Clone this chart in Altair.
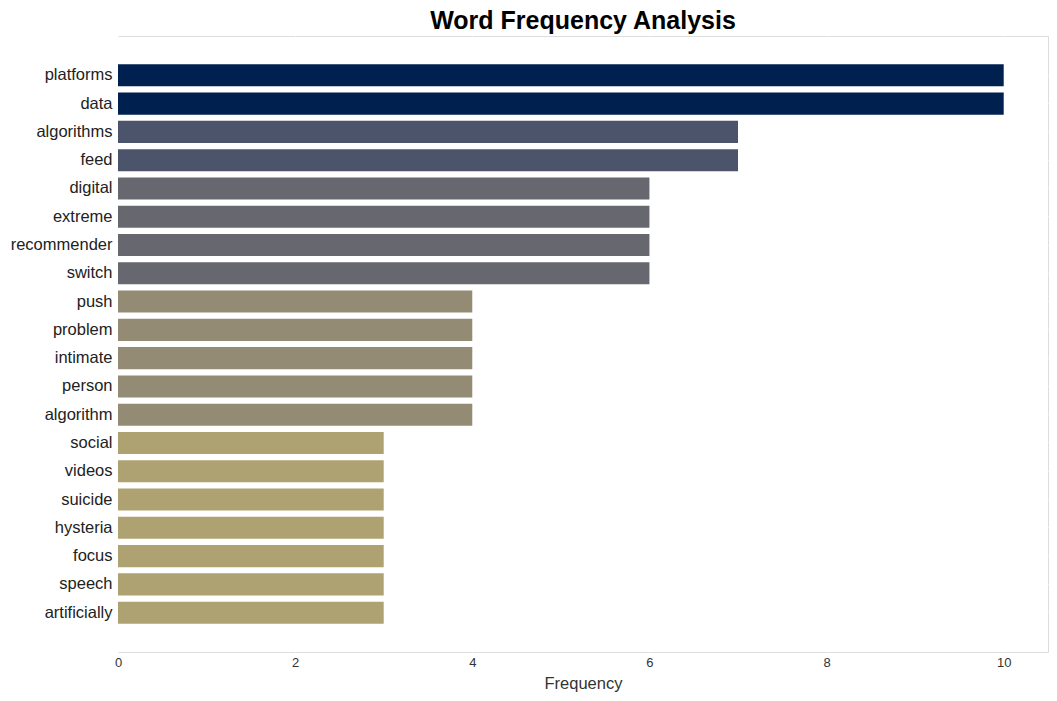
import altair as alt
import pandas as pd

words = ["platforms", "data", "algorithms", "feed", "digital", "extreme", "recommender",
         "switch", "push", "problem", "intimate", "person", "algorithm", "social",
         "videos", "suicide", "hysteria", "focus", "speech", "artificially"]
counts = [10, 10, 7, 7, 6, 6, 6, 6, 4, 4, 4, 4, 4, 3, 3, 3, 3, 3, 3, 3]
color_levels = [10, 7, 6, 4, 3]
color_values = ["#00214f", "#4b546a", "#67686f", "#948b75", "#afa272"]

df = pd.DataFrame({"word": words, "count": counts})

chart = alt.Chart(df).mark_bar().encode(
    x=alt.X("count:Q", title="Frequency",
            scale=alt.Scale(domain=[0, 10.5], nice=False),
            axis=alt.Axis(values=[0, 2, 4, 6, 8, 10], format="d", domain=False, ticks=False,
                          labelFlush=False,
                          labelFontSize=13, titleFontSize=16.5, labelPadding=4,
                          titlePadding=6, labelColor="#333333", titleColor="#333333",
                          titleFontWeight="normal", gridColor="white", gridWidth=1)),
    y=alt.Y("word:N", sort=words, title=None,
            scale=alt.Scale(paddingInner=0.22, paddingOuter=1.0),
            axis=alt.Axis(domain=False, ticks=False, labelFontSize=16.5, labelPadding=6,
                          labelColor="#222222", grid=True, gridColor="white", gridWidth=1)),
    color=alt.Color("count:O", scale=alt.Scale(domain=color_levels, range=color_values),
                    legend=None),
).properties(
    width=930, height=616,
    title=alt.TitleParams("Word Frequency Analysis", fontSize=25, fontWeight="bold",
                          anchor="middle", color="black", offset=2),
).configure_view(fill="#f7f7f7", stroke=None).configure(
    font="Liberation Sans", padding={"left": 2, "top": 1, "right": 1, "bottom": 2}
)

chart.save("out.html", embed_options={"renderer": "svg", "actions": False})
